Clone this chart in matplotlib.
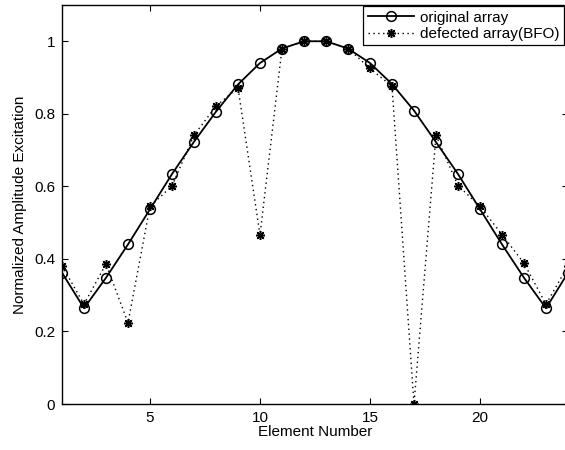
import matplotlib
matplotlib.use("Agg")
import matplotlib.pyplot as plt

elements = list(range(1, 25))
original = [0.362, 0.264, 0.348, 0.440, 0.537, 0.634, 0.723, 0.806, 0.881, 0.940,
            0.980, 1.000, 1.000, 0.980, 0.940, 0.882, 0.809, 0.722, 0.634, 0.537,
            0.440, 0.348, 0.264, 0.362]
defected = [0.381, 0.275, 0.386, 0.224, 0.545, 0.601, 0.741, 0.821, 0.872, 0.466,
            0.980, 1.000, 1.000, 0.980, 0.925, 0.876, 0.000, 0.741, 0.602, 0.545,
            0.467, 0.388, 0.275, 0.381]
xticks = [5, 10, 15, 20]
yticks = [0, 0.2, 0.4, 0.6, 0.8, 1]
yticklabels = ["0", "0.2", "0.4", "0.6", "0.8", "1"]

plt.rcParams['font.family'] = ['Liberation Sans', 'DejaVu Sans']
fig = plt.figure(figsize=(5.65, 4.5), dpi=100)
ax = fig.add_axes([62/565, 46/450, 506/565, 399/450])

ax.plot(elements, original, color='black', lw=1.3, marker='o', ms=7,
        mfc='none', mec='black', mew=1.1, label='original array', zorder=3)
ax.plot(elements, defected, color='black', lw=1.0, ls=(0, (1, 2.5)),
        marker=(8, 2, 0), ms=6.5, mec='black', mew=1.1,
        label='defected array(BFO)', zorder=4)

ax.set_xlim(1, 24)
ax.set_ylim(0, 1.1)
ax.set_xticks(xticks)
ax.set_yticks(yticks)
ax.set_yticklabels(yticklabels)
ax.tick_params(direction='in', top=True, right=True, length=4, width=0.8,
               labelsize=11, pad=5)
for s in ax.spines.values():
    s.set_linewidth(1.0)

ax.set_xlabel('Element Number', fontsize=11, labelpad=0)
ax.set_ylabel('Normalized Amplitude Excitation', fontsize=11, labelpad=5)

leg = ax.legend(loc='upper right', bbox_to_anchor=(564/565, 1 - 6/450),
                bbox_transform=fig.transFigure, borderaxespad=0,
                fancybox=False, framealpha=1, edgecolor='black',
                fontsize=11, handlelength=3.0, handletextpad=0.4,
                borderpad=0.3, labelspacing=0.15)
leg.get_frame().set_linewidth(0.9)

fig.savefig('out.png', dpi=100)
